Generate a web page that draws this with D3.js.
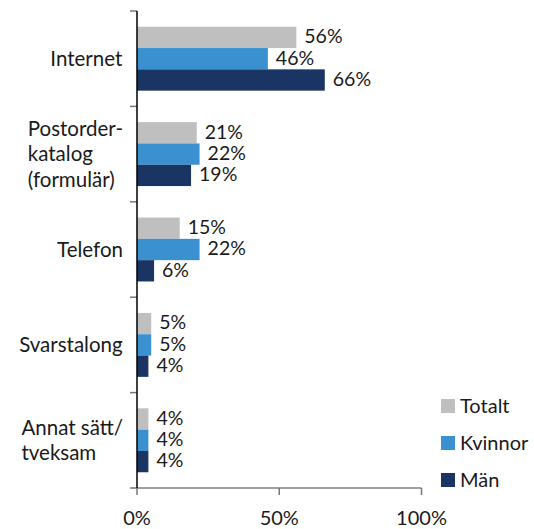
<!DOCTYPE html>
<html>
<head>
<meta charset="utf-8">
<script src="https://cdn.jsdelivr.net/npm/d3@7"></script>
<style>
  body { margin: 0; background: #fff; }
  svg text { font-family: Lato, "Open Sans", sans-serif; fill: #1a1a1a; }
</style>
</head>
<body>
<div id="chart"></div>
<script>
// categories (lines of each label) and series values in percent
var categories = ["Internet", "Postorder-\nkatalog\n(formulär)", "Telefon", "Svarstalong", "Annat sätt/\ntveksam"];
var seriesNames = ["Totalt", "Kvinnor", "Män"];
var totalt = [56, 21, 15, 5, 4];
var kvinnor = [46, 22, 22, 5, 4];
var man = [66, 19, 6, 4, 4];
var xTicks = [0, 50, 100];
var colors = ["#bfbfbf", "#3b91cf", "#1a3563"];

var width = 534,
    height = 529,
    margin = { top: 11, right: 112, bottom: 41, left: 137 };

var svg = d3.select("#chart").append("svg")
    .attr("width", width)
    .attr("height", height);

var g = svg.append("g")
    .attr("transform", "translate(" + margin.left + "," + margin.top + ")");

var innerW = width - margin.left - margin.right,
    innerH = height - margin.top - margin.bottom;

var x = d3.scaleLinear().domain([0, 100]).range([0, innerW - 0.5]);
var y = d3.scaleBand().domain(d3.range(categories.length))
    .range([0, innerH]).paddingInner(0.33).paddingOuter(0.165);
var ySub = d3.scaleBand().domain(seriesNames).range([0, y.bandwidth()]);

var values = [totalt, kvinnor, man];

// bars
var groups = g.selectAll(".cat")
    .data(categories)
    .enter().append("g")
    .attr("class", "cat")
    .attr("transform", (d, i) => "translate(0," + y(i) + ")");

groups.each(function (c, i) {
    var grp = d3.select(this);
    seriesNames.forEach(function (s, k) {
        var v = values[k][i];
        grp.append("rect")
            .attr("x", 0)
            .attr("y", ySub(s))
            .attr("width", x(v))
            .attr("height", ySub.bandwidth())
            .attr("fill", colors[k]);
        grp.append("text")
            .attr("x", x(v) + 8)
            .attr("y", ySub(s) + ySub.bandwidth() / 2)
            .attr("dy", "0.3em")
            .style("font-size", "19.5px")
            .text(v + "%");
    });
});

// y axis: line + ticks between categories
var yTickPos = d3.range(categories.length + 1).map(i => i * y.step());
g.selectAll(".ytick")
    .data(yTickPos)
    .enter().append("line")
    .attr("x1", -7).attr("x2", 0)
    .attr("y1", d => d).attr("y2", d => d)
    .attr("stroke", "#777").attr("stroke-width", 1.5);

// x axis
g.append("line")
    .attr("x1", 0).attr("x2", x(100))
    .attr("y1", innerH).attr("y2", innerH)
    .attr("stroke", "#444").attr("stroke-width", 1.2);
g.selectAll(".xtick")
    .data(xTicks)
    .enter().append("line")
    .attr("x1", d => x(d)).attr("x2", d => x(d))
    .attr("y1", innerH).attr("y2", innerH + 7)
    .attr("stroke", "#777").attr("stroke-width", 1.5);
g.selectAll(".xlabel")
    .data(xTicks)
    .enter().append("text")
    .attr("x", d => x(d))
    .attr("y", innerH + 37)
    .attr("text-anchor", "middle")
    .style("font-size", "20px")
    .text(d => d + "%");

g.append("line")
    .attr("x1", 0).attr("x2", 0)
    .attr("y1", 0).attr("y2", innerH)
    .attr("stroke", "#000").attr("stroke-width", 1.5);

// category labels: lines left aligned, block right aligned
var lineH = 25.5;
categories.forEach(function (c, i) {
    var lines = c.split("\n");
    var t = g.append("text")
        .style("font-size", "20.5px");
    var cy = y(i) + y.bandwidth() / 2;
    lines.forEach(function (l, j) {
        t.append("tspan")
            .attr("x", 0)
            .attr("y", cy + (j - (lines.length - 1) / 2) * lineH)
            .attr("dy", "0.35em")
            .text(l);
    });
    var w = t.node().getBBox().width;
    t.selectAll("tspan").attr("x", -14 - w);
});

// legend
var legend = svg.append("g")
    .attr("transform", "translate(441,399)");
seriesNames.forEach(function (s, k) {
    var row = legend.append("g").attr("transform", "translate(0," + k * 37 + ")");
    row.append("rect")
        .attr("width", 14).attr("height", 14)
        .attr("fill", colors[k]);
    row.append("text")
        .attr("x", 19).attr("y", 7)
        .attr("dy", "0.35em")
        .style("font-size", "20px")
        .text(s);
});
</script>
</body>
</html>
